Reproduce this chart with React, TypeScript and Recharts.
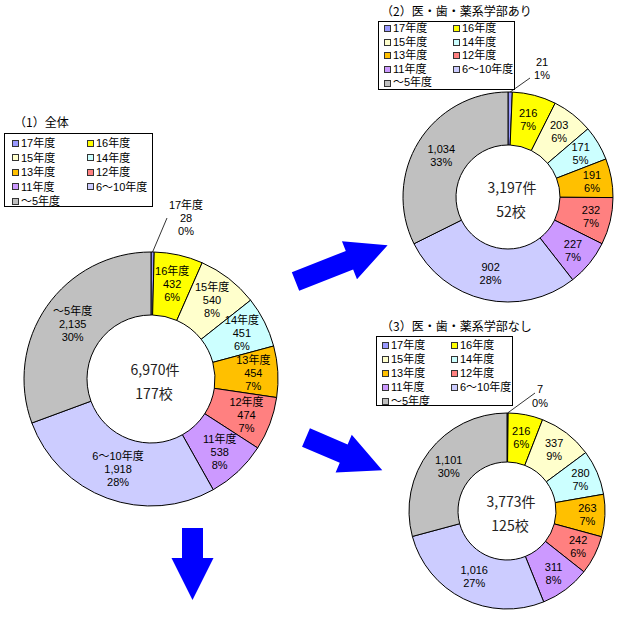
import { PieChart, Pie, Cell } from 'recharts';

const categories = ['17年度', '16年度', '15年度', '14年度', '13年度', '12年度', '11年度', '6～10年度', '～5年度'];
const colors = ['#9999FF', '#FFFF00', '#FFFFCC', '#CCFFFF', '#FFC000', '#FF8080', '#CC99FF', '#CCCCFF', '#C0C0C0'];

const allCounts = [28, 432, 540, 451, 454, 474, 538, 1918, 2135];
const allPct = ['0%', '6%', '8%', '6%', '7%', '7%', '8%', '28%', '30%'];
const medCounts = [21, 216, 203, 171, 191, 232, 227, 902, 1034];
const medPct = ['1%', '7%', '6%', '5%', '6%', '7%', '7%', '28%', '33%'];
const noMedCounts = [7, 216, 337, 280, 263, 242, 311, 1016, 1101];
const noMedPct = ['0%', '6%', '9%', '7%', '7%', '6%', '8%', '27%', '30%'];

const titles = ['（1）全体', '（2）医・歯・薬系学部あり', '（3）医・歯・薬系学部なし'];
const totals = ['6,970件', '3,197件', '3,773件'];
const schools = ['177校', '52校', '125校'];

const FONT = "'Noto Sans CJK JP', 'Noto Sans', sans-serif";
const LABEL_FONT = "'Liberation Sans', 'Noto Sans CJK JP', sans-serif";
const RADIAN = Math.PI / 180;

type OutCfg = { lx: number; ly: number; tx: number; ty: number; gap: number };

const pies = [
    { counts: allCounts, pct: allPct, showName: true, cx: 151, cy: 379, inner: 64, outer: 127, out: { lx: 16, ly: -34, tx: 35, ty: -47, gap: 13 } },
    { counts: medCounts, pct: medPct, showName: false, cx: 508, cy: 197, inner: 52, outer: 105, out: { lx: 22, ly: -14, tx: 34, ty: -30, gap: 12.5 } },
    { counts: noMedCounts, pct: noMedPct, showName: false, cx: 507, cy: 511, inner: 49, outer: 98, out: { lx: 28, ly: -20, tx: 33, ty: -24, gap: 14 } },
]

const legends = [
    { left: 4, top: 133, width: 149, height: 74, padL: 7, colW: 75, rowH: 14.5, padT: 2 },
    { left: 378, top: 21, width: 137, height: 69, padL: 5, colW: 69, rowH: 13.6, padT: 0 },
    { left: 376, top: 336, width: 137, height: 70, padL: 5, colW: 69, rowH: 14, padT: 1 },
]

const titlePos = [
    { left: 14, top: 114 },
    { left: 381, top: 3 },
    { left: 381, top: 318 },
]

const makeLabel = (pct: string[], showName: boolean, out: OutCfg) => (props: any) => {
    const { cx, cy, midAngle, innerRadius, outerRadius, index, value, name } = props;
    const fmt = Number(value).toLocaleString('en-US');
    const lines = showName ? [name, fmt, pct[index]] : [fmt, pct[index]];
    if (index === 0) {
        const sx = cx + outerRadius * Math.cos(-midAngle * RADIAN);
        const sy = cy + outerRadius * Math.sin(-midAngle * RADIAN);
        const top = cy - outerRadius;
        return (
            <g>
                <line x1={sx} y1={sy} x2={cx + out.lx} y2={top + out.ly} stroke="#000" strokeWidth={0.8} />
                <text x={cx + out.tx} y={top + out.ty} textAnchor="middle" dominantBaseline="central"
                    fontSize={11} fontFamily={LABEL_FONT} fill="#000">
                    {lines.map((t, i) => (
                        <tspan key={i} x={cx + out.tx} dy={i === 0 ? 0 : out.gap}>{t}</tspan>
                    ))}
                </text>
            </g>
        )
    }
    // labels on the right half sit a little further out, like the original
    const r = (innerRadius + outerRadius) / 2 + 7 * Math.max(0, Math.cos(midAngle * RADIAN));
    const x = cx + r * Math.cos(-midAngle * RADIAN);
    const y = cy + r * Math.sin(-midAngle * RADIAN);
    const lh = 13;
    const y0 = y - (lines.length - 1) * lh / 2;
    return (
        <text x={x} y={y0} textAnchor="middle" dominantBaseline="central" fontSize={11} fontFamily={LABEL_FONT} fill="#000">
            {lines.map((t, i) => (
                <tspan key={i} x={x} dy={i === 0 ? 0 : lh}>{t}</tspan>
            ))}
        </text>
    )
}

const arrowPoints = (len: number, headLen: number, shaftW: number, headW: number) => {
    const s = len - headLen;
    return [[0, -shaftW / 2], [s, -shaftW / 2], [s, -headW / 2], [len, 0], [s, headW / 2], [s, shaftW / 2], [0, shaftW / 2]]
        .map(p => p.join(',')).join(' ');
}

const arrows = [
    { x: 295.5, y: 281.5, angle: -21.5, len: 99, head: 41, shaft: 20, headW: 41 },
    { x: 306, y: 437.5, angle: 23.2, len: 83, head: 42, shaft: 20, headW: 41 },
    { x: 192.5, y: 528, angle: 90, len: 72, head: 42, shaft: 21, headW: 42 },
]

const Legend = ({ cfg }: { cfg: typeof legends[0] }) => (
    <div style={{
        position: 'absolute', left: cfg.left, top: cfg.top, width: cfg.width - 2, height: cfg.height - 2,
        border: '1px solid #000', background: '#fff', boxSizing: 'content-box',
    }}>
        {categories.map((c, i) => (
            <div key={c} style={{
                position: 'absolute',
                left: cfg.padL + (i % 2) * cfg.colW,
                top: cfg.padT + Math.floor(i / 2) * cfg.rowH + 1,
                height: cfg.rowH - 2, lineHeight: `${cfg.rowH - 2}px`, display: 'flex', alignItems: 'center',
                fontFamily: LABEL_FONT, fontSize: 11, color: '#000', whiteSpace: 'nowrap',
            }}>
                <span style={{ display: 'inline-block', width: 5, height: 5, border: '1px solid #333', background: colors[i], marginRight: 2 }} />
                <span style={{ lineHeight: `${cfg.rowH - 2}px` }}>{c}</span>
            </div>
        ))}
    </div>
)

export default function App() {
    return (
        <div style={{ position: 'absolute', left: 0, top: 0, width: 618, height: 617, background: '#fff', overflow: 'hidden' }}>
            <PieChart width={618} height={617} margin={{ top: 0, right: 0, bottom: 0, left: 0 }}>
                {pies.map((p, k) => (
                    <Pie
                        key={k}
                        data={categories.map((c, i) => ({ name: c, value: p.counts[i] }))}
                        dataKey="value"
                        nameKey="name"
                        cx={p.cx}
                        cy={p.cy}
                        innerRadius={p.inner}
                        outerRadius={p.outer}
                        startAngle={90}
                        endAngle={-270}
                        stroke="#000"
                        strokeWidth={1}
                        label={makeLabel(p.pct, p.showName, p.out)}
                        labelLine={false}
                        isAnimationActive={false}
                    >
                        {categories.map((c, i) => <Cell key={c} fill={colors[i]} />)}
                    </Pie>
                ))}
            </PieChart>
            <svg width={618} height={617} style={{ position: 'absolute', left: 0, top: 0, pointerEvents: 'none' }}>
                {arrows.map((a, i) => (
                    <polygon key={i} points={arrowPoints(a.len, a.head, a.shaft, a.headW)} fill="#0000FF"
                        transform={`translate(${a.x},${a.y}) rotate(${a.angle})`} />
                ))}
                {pies.map((p, k) => (
                    <g key={k}>
                        <text x={p.cx + 4} y={p.cy - 10} textAnchor="middle" dominantBaseline="central" fontSize={14} fontFamily={FONT} fill="#222">{totals[k]}</text>
                        <text x={p.cx + 3} y={p.cy + 14} textAnchor="middle" dominantBaseline="central" fontSize={14} fontFamily={FONT} fill="#222">{schools[k]}</text>
                    </g>
                ))}
            </svg>
            {titles.map((t, k) => (
                <div key={t} style={{ position: 'absolute', left: titlePos[k].left, top: titlePos[k].top, fontFamily: FONT, fontSize: 12, lineHeight: '16px', color: '#000', whiteSpace: 'nowrap' }}>{t}</div>
            ))}
            {legends.map((l, k) => <Legend key={k} cfg={l} />)}
        </div>
    )
}
